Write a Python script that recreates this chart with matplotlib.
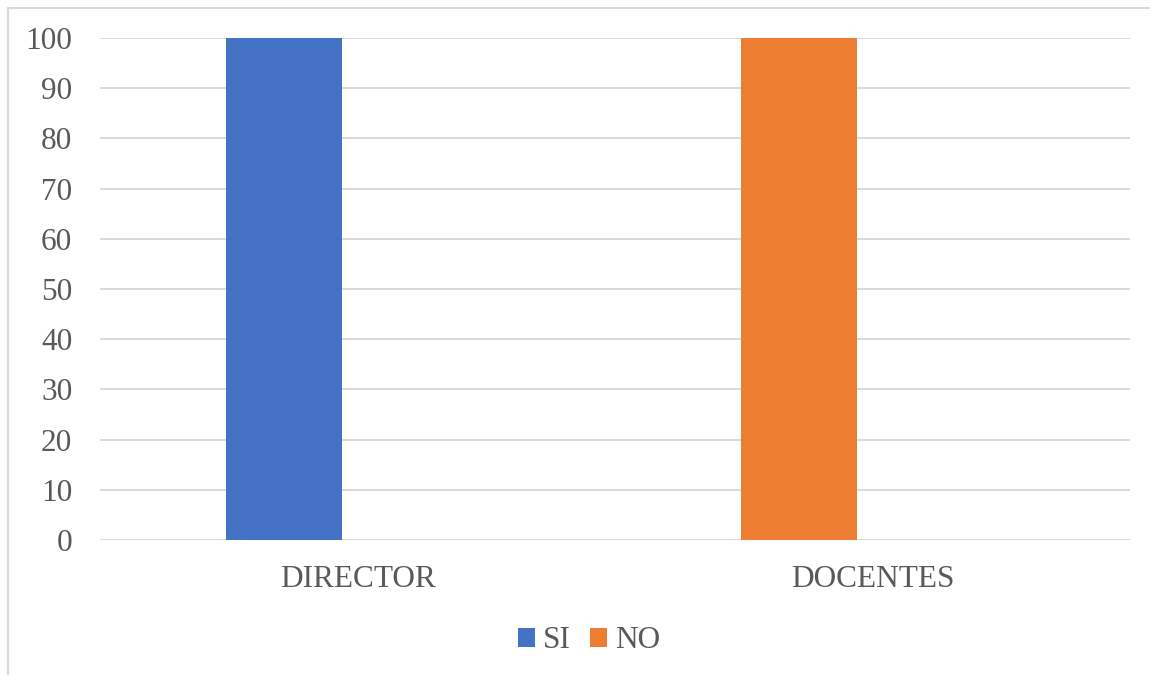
import numpy as np
import matplotlib.pyplot as plt
from matplotlib.patches import Rectangle

categories = ['DIRECTOR', 'DOCENTES']
si_values = [100, 0]
no_values = [0, 100]
series_names = ['SI', 'NO']
yticks = list(range(0, 101, 10))

plt.rcParams['font.family'] = 'serif'
plt.rcParams['font.serif'] = ['Liberation Serif', 'Times New Roman', 'DejaVu Serif']

fig = plt.figure(figsize=(11.5, 6.75), dpi=100)
ax = fig.add_axes([100 / 1150, 1 - 540 / 675, 1030 / 1150, 502 / 675])

x = np.arange(len(categories))
offset = -0.143
width = 0.225
b1 = ax.bar(x + offset, si_values, width, color='#4472C4', label=series_names[0], zorder=3)
b2 = ax.bar(x + offset, no_values, width, color='#ED7D31', label=series_names[1], zorder=3)

ax.set_xlim(-0.5, 1.5)
ax.set_ylim(0, 100)
ax.set_yticks(yticks)
ax.set_xticks(x)
ax.set_xticklabels(categories)
ax.tick_params(axis='both', length=0, labelsize=22.5, colors='#595959')
ax.tick_params(axis='y', pad=20)
ax.tick_params(axis='x', pad=18)
ax.yaxis.grid(True, color='#d9d9d9', linewidth=1.4, zorder=0)
ax.set_axisbelow(True)
for s in ax.spines.values():
    s.set_visible(False)
ax.axhline(0, color='#d9d9d9', linewidth=1.4, zorder=2)

fig.legend(handles=[b1, b2], loc='center', bbox_to_anchor=(589 / 1150, 1 - 641 / 675),
           ncol=2, frameon=False, fontsize=22.5, labelcolor='#595959',
           handlelength=0.55, handleheight=0.55, handletextpad=0.25, columnspacing=0.6)

# chart frame, cut off at the right and bottom edges
fig.patches.append(Rectangle((8 / 1150, -0.1), 1.2, 1 - 8 / 675 + 0.1, transform=fig.transFigure,
                             fill=False, edgecolor='#d9d9d9', linewidth=1.5))

fig.savefig('out.png', dpi=100)
